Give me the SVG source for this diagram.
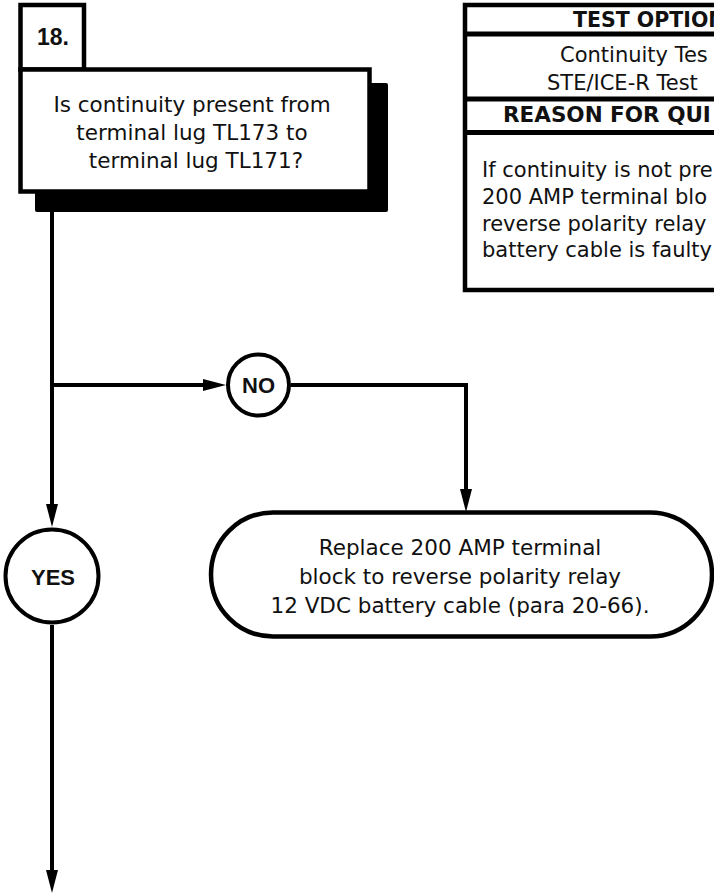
<svg xmlns="http://www.w3.org/2000/svg" width="714" height="893" viewBox="0 0 714 893">
<style>
  .txt { font-family: "DejaVu Sans", "Liberation Sans", sans-serif; font-size: 21.5px; fill: #111; }
  .tbl { font-family: "DejaVu Sans", "Liberation Sans", sans-serif; font-size: 21px; fill: #111; }
  .hdr { font-family: "DejaVu Sans", "Liberation Sans", sans-serif; font-size: 20.5px; font-weight: bold; fill: #111; }
  .lbl { font-family: "Liberation Sans", "DejaVu Sans", sans-serif; font-size: 22px; font-weight: bold; fill: #111; }
  .box { fill: #fff; stroke: #000; stroke-width: 4.5; }
  .conn { fill: none; stroke: #000; stroke-width: 4; marker-end: url(#arrow); }
  .plain { fill: none; stroke: #000; stroke-width: 4; }
</style>
<defs>
  <marker id="arrow" viewBox="0 0 23 12" refX="15" refY="6" markerWidth="23" markerHeight="12" markerUnits="userSpaceOnUse" orient="auto">
    <path d="M0,0 L23,6 L0,12 z" fill="#000"/>
  </marker>
</defs>
<rect width="714" height="893" fill="#fff"/>

<g id="connectors">
  <path class="conn" d="M52,212 V519"/>
  <path class="conn" d="M52,385 H218"/>
  <path class="conn" d="M291,385 H466 V504"/>
  <path class="conn" d="M52,625 V885"/>
</g>

<g id="step18">
  <rect x="35" y="83" width="353" height="129" rx="2" fill="#000"/>
  <rect class="box" x="20.5" y="5" width="63.5" height="64.5"/>
  <rect class="box" x="20.5" y="69.5" width="349" height="122"/>
  <text class="lbl" x="37" y="45" style="font-size:23px">18.</text>
  <text class="txt" text-anchor="middle" x="192" y="112">Is continuity present from</text>
  <text class="txt" text-anchor="middle" x="192" y="140">terminal lug TL173 to</text>
  <text class="txt" text-anchor="middle" x="196" y="168">terminal lug TL171?</text>
</g>

<g id="test-options">
  <rect class="box" x="465" y="5" width="360" height="285"/>
  <line class="plain" x1="465" y1="34" x2="830" y2="34" style="stroke-width:5"/>
  <line class="plain" x1="465" y1="99" x2="830" y2="99" style="stroke-width:5"/>
  <line class="plain" x1="465" y1="132.5" x2="830" y2="132.5" style="stroke-width:5"/>
  <text class="hdr" x="573" y="27">TEST OPTION</text>
  <text class="tbl" x="560" y="62">Continuity Tes</text>
  <text class="tbl" x="547" y="90">STE/ICE-R Test</text>
  <text class="hdr" x="503" y="122" style="font-size:21.5px">REASON FOR QUI</text>
  <text class="tbl" x="482" y="177">If continuity is not pre</text>
  <text class="tbl" x="482" y="204">200 AMP terminal blo</text>
  <text class="tbl" x="482" y="231">reverse polarity relay</text>
  <text class="tbl" x="482" y="257">battery cable is faulty</text>
</g>

<g id="no">
  <circle class="box" cx="258.5" cy="385" r="30.5" style="stroke-width:4"/>
  <text class="lbl" text-anchor="middle" x="258.5" y="393">NO</text>
</g>

<g id="yes">
  <circle class="box" cx="52" cy="576" r="46.5" style="stroke-width:4"/>
  <text class="lbl" text-anchor="middle" x="53" y="585">YES</text>
</g>

<g id="replace">
  <rect class="box" x="211" y="512.5" width="501" height="124" rx="62" ry="62"/>
  <text class="txt" text-anchor="middle" x="460" y="555">Replace 200 AMP terminal</text>
  <text class="txt" text-anchor="middle" x="460" y="584">block to reverse polarity relay</text>
  <text class="txt" text-anchor="middle" x="460" y="613">12 VDC battery cable (para 20-66).</text>
</g>
</svg>
